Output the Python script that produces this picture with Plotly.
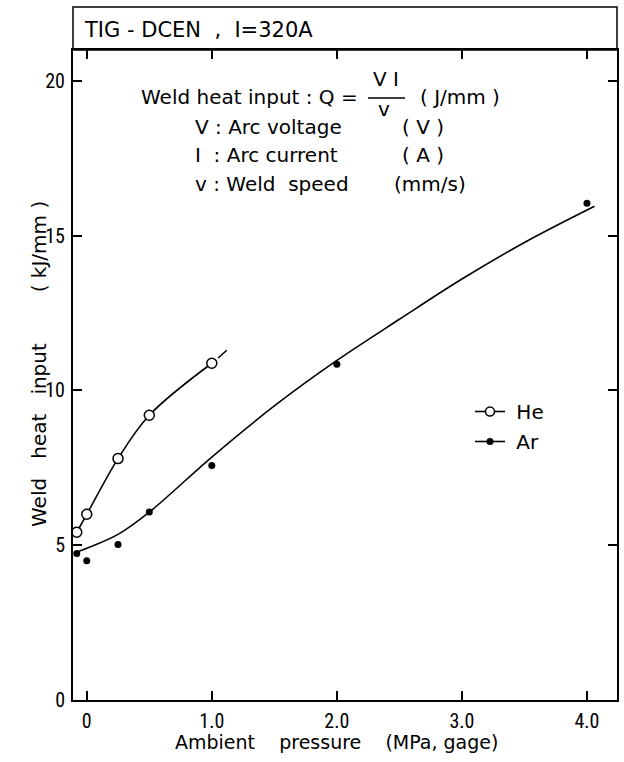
import plotly.graph_objects as go

# --- data ---
he_x = [-0.08, 0.0, 0.25, 0.5, 1.0]
he_y = [5.42, 6.0, 7.8, 9.2, 10.88]
ar_x = [-0.08, 0.0, 0.25, 0.5, 1.0, 2.0, 4.0]
ar_y = [4.73, 4.5, 5.02, 6.07, 7.58, 10.85, 16.05]

# hand-drawn fitted curves
he_curve_x = [-0.08, 0.0, 0.25, 0.5, 1.0]
he_curve_y = [5.42, 6.0, 7.8, 9.2, 10.88]
he_tail_x = [1.05, 1.12]
he_tail_y = [11.05, 11.3]
ar_curve_x = [-0.1, 0.0, 0.25, 0.5, 1.0, 1.5, 2.0, 2.5, 3.0, 3.5, 4.06]
ar_curve_y = [4.75, 4.9, 5.35, 6.07, 7.85, 9.5, 10.97, 12.3, 13.6, 14.78, 15.95]

x_ticks = [0, 1, 2, 3, 4]
x_tick_labels = ["0", "1.0", "2.0", "3.0", "4.0"]
y_ticks = [0, 5, 10, 15, 20]
y_tick_labels = ["0", "5", "10", "15", "20"]

FONT = "DejaVu Sans"
NARROW = "Liberation Sans Narrow, Roboto Condensed, DejaVu Sans Condensed, Liberation Sans"
W, H = 624, 762
L, R, T, B = 73, 7, 50, 62
PW, PH = W - L - R, H - T - B
NB = "\u00a0"


def px(x):
    return (x - L) / PW


def py(y):
    return (H - B - y) / PH


fig = go.Figure()

# curves
fig.add_trace(go.Scatter(x=he_curve_x, y=he_curve_y, mode="lines",
                         line=dict(color="black", width=1.6, shape="spline", smoothing=1.0),
                         showlegend=False, hoverinfo="skip"))
fig.add_trace(go.Scatter(x=he_tail_x, y=he_tail_y, mode="lines",
                         line=dict(color="black", width=1.6),
                         showlegend=False, hoverinfo="skip"))
fig.add_trace(go.Scatter(x=ar_curve_x, y=ar_curve_y, mode="lines",
                         line=dict(color="black", width=1.6, shape="spline", smoothing=1.0),
                         showlegend=False, hoverinfo="skip"))
# points
fig.add_trace(go.Scatter(x=he_x, y=he_y, mode="markers",
                         marker=dict(symbol="circle", size=10, color="white",
                                     line=dict(color="black", width=1.5)),
                         showlegend=False))
fig.add_trace(go.Scatter(x=ar_x, y=ar_y, mode="markers",
                         marker=dict(symbol="circle", size=7, color="black"),
                         showlegend=False))
# legend entries
fig.add_trace(go.Scatter(x=[None], y=[None], mode="lines+markers", name=NB + "He",
                         legendgroup="he",
                         line=dict(color="black", width=1.6),
                         marker=dict(symbol="circle", size=9, color="white",
                                     line=dict(color="black", width=1.5))))
fig.add_trace(go.Scatter(x=[None], y=[None], mode="lines+markers", name=NB + "Ar",
                         legendgroup="ar",
                         line=dict(color="black", width=1.6),
                         marker=dict(symbol="circle", size=7, color="black")))

axis_common = dict(showgrid=False, zeroline=False, showline=True, linecolor="black",
                   linewidth=2, ticks="inside", ticklen=9, tickwidth=1.5,
                   tickcolor="black", mirror="ticks", automargin=False,
                   tickfont=dict(family=NARROW, size=20, color="black"))

fig.update_xaxes(range=[-0.11, 4.24], tickvals=x_ticks, ticktext=x_tick_labels,
                 ticklabelstandoff=2, **axis_common)
fig.update_yaxes(range=[0, 21], tickvals=y_ticks, ticktext=y_tick_labels,
                 ticklabelstandoff=2, **axis_common)

# title box
fig.add_shape(type="rect", xref="paper", yref="paper", x0=0, x1=1,
              y0=1, y1=py(7), line=dict(color="black", width=1.5))


def note(x, y, text, anchor="left", size=20, angle=0):
    fig.add_annotation(xref="paper", yref="paper", x=px(x), y=py(y), xanchor=anchor,
                       yanchor="middle", showarrow=False, text=text, textangle=angle,
                       font=dict(family=FONT, size=size, color="black"))


note(82, 30, "TIG - DCEN" + NB * 2 + "," + NB * 2 + "I=320A", size=21)

# axis titles
note(336, 742, "Ambient" + NB * 4 + "pressure" + NB * 4 + "(MPa, gage)", "center", size=19)
note(39, 364, "Weld" + NB * 3 + "heat" + NB * 3 + "input" + NB * 8 + "(" + NB + "kJ/mm" + NB + ")",
     "center", size=20, angle=-90)

# formula block
note(360, 97, "Weld heat input : Q =", "right")
note(386, 79, "V I", "center")
note(384, 109, "v", "center")
fig.add_shape(type="line", xref="paper", yref="paper", x0=px(368), x1=px(405),
              y0=py(98), y1=py(98), line=dict(color="black", width=1.5))
note(418, 97, "(" + NB + "J/mm" + NB + ")")
note(193, 127, "V : Arc voltage")
note(400, 127, "(" + NB + "V" + NB + ")")
note(193, 155, "I" + NB + " : Arc current")
note(400, 155, "(" + NB + "A" + NB + ")")
note(193, 184, "v : Weld" + NB + " speed")
note(392, 184, "(mm/s)")

fig.update_layout(
    width=W, height=H, margin=dict(l=L, r=R, t=T, b=B, autoexpand=False),
    paper_bgcolor="white", plot_bgcolor="white",
    legend=dict(x=px(470), y=py(392), xanchor="left", yanchor="top",
                font=dict(family=FONT, size=20, color="black"),
                bgcolor="rgba(0,0,0,0)", itemwidth=30, tracegroupgap=1),
    showlegend=True,
)

fig.write_html("out.html", config={"displayModeBar": False},
               post_script="document.body.style.margin='0';document.body.style.overflow='hidden';")
